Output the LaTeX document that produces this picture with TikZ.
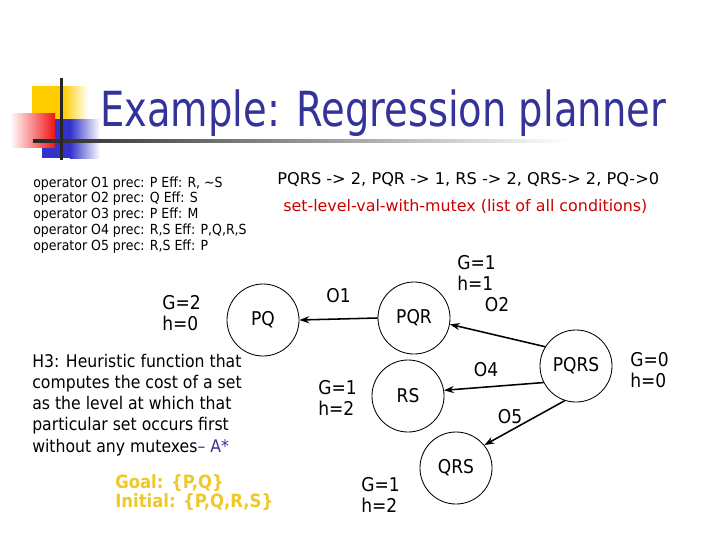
\documentclass[tikz,border=0pt]{standalone}
\usepackage{fontspec}
\setmainfont[FakeStretch=0.9]{DejaVu Sans}
\newfontfamily\titlefont[FakeStretch=0.795]{DejaVu Sans}
\newfontfamily\widefont{DejaVu Sans}
\usetikzlibrary{arrows.meta}
\definecolor{titleblue}{RGB}{51,51,153}
\definecolor{slidered}{RGB}{204,0,0}
\definecolor{slidegold}{RGB}{240,200,40}
\definecolor{decoyellow}{RGB}{255,204,0}
\definecolor{decoblue}{RGB}{51,51,204}
\definecolor{decored}{RGB}{240,20,20}
\begin{document}
\begin{tikzpicture}[x=0.025cm, y=-0.025cm,
  set/.style={draw, circle, line width=0.6pt, minimum size=1.8cm, inner sep=0pt, font=\fontsize{13.5}{16}\selectfont},
  lbl/.style={inner sep=0pt, align=left, font=\fontsize{13.5}{15}\selectfont},
  op/.style={-{Stealth[length=7pt,width=5pt]}, line width=1.1pt}]
\useasboundingbox (0,0) rectangle (720,540);
\fill[white] (0,0) rectangle (720,540);

\fill[decoyellow] (32,86) rectangle (63,119);
\shade[left color=decoyellow, right color=white] (63,86) rectangle (88,119);
\fill[decoblue] (42,119) rectangle (70,158);
\shade[left color=decoblue, right color=white] (70,119) rectangle (100,158);
\shade[left color=white, right color=decored] (10,113) rectangle (55,147);
\shade[left color=black!85, right color=white] (33,139.5) rectangle (570,142.5);
\fill[black!85] (59.5,78) rectangle (62.5,160);

\node[anchor=base west, inner sep=0pt, text=titleblue, font=\titlefont\fontsize{34.4}{40}\selectfont] (title) at (100,126) {Example: Regression planner};

\node[anchor=west, inner sep=0pt, align=left, font=\fontsize{9.9}{11.3}\selectfont] (ops) at (33,215)
  {operator O1 prec: P Eff: R, \textasciitilde S\\
   operator O2 prec: Q Eff: S\\
   operator O3 prec: P Eff: M\\
   operator O4 prec: R,S Eff: P,Q,R,S\\
   operator O5 prec: R,S Eff: P};
\node[anchor=base west, inner sep=0pt, font=\widefont\fontsize{11.5}{12}\selectfont] (levels) at (277,184) {PQRS -> 2, PQR -> 1, RS -> 2, QRS-> 2, PQ->0};
\node[anchor=base west, inner sep=0pt, text=slidered, font=\widefont\fontsize{11.3}{12}\selectfont] (mutex) at (283,211) {set-level-val-with-mutex (list of all conditions)};

\node[anchor=west, inner sep=0pt, align=left, font=\fontsize{12.4}{15}\selectfont] (heur) at (32,405)
  {H3: Heuristic function that\\
   computes the cost of a set\\
   as the level at which that\\
   particular set occurs first\\
   without any mutexes\textcolor{titleblue}{– A*}};
\node[anchor=west, inner sep=0pt, align=left, text=slidegold, font=\bfseries\fontsize{13}{13.5}\selectfont] (goal) at (115,493)
  {Goal: \{P,Q\}\\Initial: \{P,Q,R,S\}};

\node[set] (pq) at (263,320) {PQ};
\node[set] (pqr) at (414,318) {PQR};
\node[set] (pqrs) at (576,366) {PQRS};
\node[set] (rs) at (408,396) {RS};
\node[set] (qrs) at (456,468) {QRS};

\node[lbl, anchor=west] (gpq) at (162,313.5) {G=2\\h=0};
\node[lbl, anchor=west] (gpqr) at (457,272.5) {G=1\\h=1};
\node[lbl, anchor=west] (gpqrs) at (630,370.5) {G=0\\h=0};
\node[lbl, anchor=west] (grs) at (318,398) {G=1\\h=2};
\node[lbl, anchor=west] (gqrs) at (361,494.5) {G=1\\h=2};

\draw[op] (pqr.180) -- (pq.0) node[lbl, midway, above=11pt] (o1) {O1};
\draw[op] (pqrs.148) -- (pqr.-10);
\draw[op] (pqrs.207) -- (rs.9);
\draw[op] (pqrs.252) -- (qrs.39);
\node[lbl] (o2) at (497,305) {O2};
\node[lbl] (o4) at (486,370) {O4};
\node[lbl] (o5) at (510,417) {O5};
\end{tikzpicture}
\end{document}
